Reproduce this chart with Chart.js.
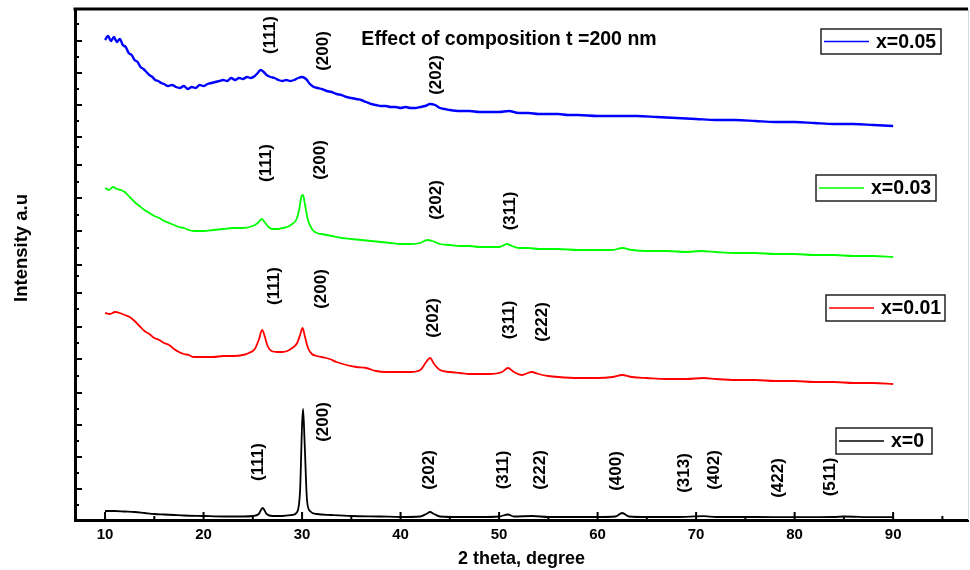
<!DOCTYPE html>
<html><head><meta charset="utf-8">
<script src="https://cdn.jsdelivr.net/npm/chart.js@4/dist/chart.umd.min.js"></script>
<style>html,body{margin:0;padding:0;background:#fff}#wrap{width:970px;height:570px;position:relative}canvas{display:block}</style>
</head><body><div id="wrap"><canvas id="c" width="970" height="570" style="width:970px;height:570px"></canvas></div>
<script>
// ---- DATA (2 theta in degrees, intensity in arbitrary units, stacked offsets as in the figure) ----
const seriesNames = ['x=0.05', 'x=0.03', 'x=0.01', 'x=0'];

const thetaX005 = [10,10.3,10.6,10.9,11.2,11.5,11.8,12.1,12.4,12.7,13.0,13.3,13.6,13.9,14.2,14.5,14.8,15.1,15.4,15.7,16.0,16.4,16.8,17.2,17.6,18.0,18.4,18.8,19.2,19.6,20.0,20.4,20.8,21.2,21.6,22.0,22.4,22.8,23.2,23.6,24.0,24.4,24.8,25.2,25.5,25.8,26.1,26.4,26.8,27.2,27.6,28.0,28.4,28.8,29.2,29.6,30.0,30.4,30.8,31.2,31.6,32.0,32.5,33.0,33.5,34.0,34.5,35.0,35.5,36.0,36.5,37.0,37.5,38.0,38.5,39.0,39.5,40.0,40.5,41.0,41.5,42.0,42.5,43.0,43.5,44.0,44.5,45,46,47,48,49,50,51,52,53,54,55,56,57,58,60,62,64,66,68,70,72,74,76,78,80,82,84,86,88,90];
const intX005 = [480,484,479,483,478,481,475,473,467,465,460,458,453,451,448,445,443,440,439,437,436,434,435,433,432,434,431,433,432,435,434,436,437,438,439,440,439,442,440,442,441,443,442,444,447,450,448,445,443,442,440,439,440,439,440,442,443,441,436,433,432,431,429,428,426,425,423,422,421,420,418,416,415,414,414,413,413,412,413,412,412,413,414,416,415,412,411,410,409,409,408,408,408,409,407,407,406,406,406,405,405,404,404,404,403,402,401,400,400,399,398,398,397,396,396,395,394];

const thetaX003 = [10,10.4,10.8,11.2,11.6,12.0,12.5,13.0,13.5,14.0,14.5,15.0,15.5,16.0,16.5,17.0,17.5,18.0,18.5,19.0,19.5,20.0,21.0,22.0,23.0,24.0,25.0,25.5,25.9,26.2,26.6,27.0,27.5,28.0,28.5,29.0,29.4,29.7,29.95,30.1,30.3,30.6,31.0,31.5,32.0,33.0,34.0,35.0,36.0,37.0,38.0,39.0,40.0,41.0,42.0,42.7,43.2,44.0,45.0,46,47,48,49,50,50.8,51.3,52,53,54,55,56,58,60,61.5,62.5,63.5,65,67,69,70.5,72,74,76,78,80,82,84,86,88,90];
const intX003 = [332,330,333,331,330,328,323,318,314,310,307,304,302,299,297,295,293,292,290,289,289,289,290,291,292,292,294,297,301,298,293,291,291,292,293,296,300,310,324,325,315,300,291,287,286,284,282,281,280,279,278,277,276,276,277,280,279,276,275,274,274,273,273,273,276,274,272,272,271,271,271,270,270,270,272,270,269,269,268,269,268,267,267,266,266,265,265,264,264,263];

const thetaX001 = [10,10.5,11.0,11.5,12.0,12.5,13.0,13.5,14.0,14.5,15.0,15.5,16.0,16.5,17.0,17.5,18.0,18.5,19.0,19.5,20.0,21.0,22.0,23.0,24.0,24.6,25.2,25.6,25.95,26.2,26.5,26.9,27.5,28.0,28.5,29.0,29.5,29.8,30.05,30.3,30.6,31.0,31.5,32.0,32.8,33.5,34.5,35.5,36.5,37.5,38.5,40.0,41.0,42.0,42.6,43.0,43.4,44.0,45.0,46,47,48,49,50.3,50.9,51.5,52.3,53.3,54,55,56,58,60,61.5,62.5,63.5,65,67,69,70.8,72,74,76,78,80,82,84,86,88,90];
const intX001 = [207,206,208,207,205,203,199,194,189,186,182,180,177,175,171,168,166,165,163,163,163,163,164,164,165,167,171,180,190,184,174,169,168,168,169,172,177,185,192,183,172,166,164,163,161,158,155,153,152,149,148,148,148,150,158,162,156,150,148,147,146,146,146,148,152,148,145,148,146,144,143,142,142,143,145,143,142,141,141,142,141,140,140,139,139,138,138,137,137,136];

const thetaX0 = [10,11,12,13,14,15,16,17,18,20,22,24,25,25.6,26.0,26.4,27,28,29,29.5,29.8,30.0,30.1,30.25,30.5,30.8,31.5,33,35,38,40,42,42.6,43.0,43.4,44,46,48,50,50.9,51.5,53.4,55,58,60,61.8,62.5,63.2,65,68,70.8,72,76,80,84,85,88,90];
const intX0 = [9,9,8.5,8,7,6,5.5,5,4.5,4,3.5,3.5,4,6,12,6,4,4,5,8,30,95,111,80,20,9,6,5,4,3.5,3,3.5,6,8,6,3.5,3,3,3.5,5.5,3.5,4,3,3,3,3.5,7,3.5,3,3,3.8,3,3,2.8,3,3.5,2.8,2.8];

// axis ticks
const xTickLabels = [10,20,30,40,50,60,70,80,90];
const xMinorTicks = [15,25,35,45,55,65,75,85,95];
const yMajorTicks = [31,63,95,127,161,193,227,255,289,322,355,383,415,447,479];
const yMinorTicks = [15,47,79,111,144,177,211,244,272,305,338,373,399,431,463,496];

// Miller index annotations: text, 2theta anchor, intensity anchor
const hklText  = ['(111)','(200)','(202)', '(111)','(200)','(202)','(311)', '(111)','(200)','(202)','(311)','(222)', '(111)','(200)','(202)','(311)','(222)','(400)','(313)','(402)','(422)','(511)'];
const hklTheta = [26.65,32.03,43.5, 26.24,31.73,43.5,51.0, 27.06,31.83,43.2,50.91,54.26, 25.43,32.03,42.79,50.3,54.06,61.78,68.68,71.73,78.22,83.5];
const hklLevel = [485,469,445, 357,360,320,309, 234,231,202,200,198, 58,98,50,50,50,49,47,50,42,43];

const colors = ['#0000ff','#00ff00','#ff0000','#000000'];
const FONT = 'Arial, "Liberation Sans", Helvetica, sans-serif';

function pts(xs, ys){ return xs.map((v,i)=>({x:v, y:ys[i]})); }

const decor = {
  id:'decor',
  afterDraw(chart){
    const {ctx, chartArea:a, scales:{x,y}} = chart;
    ctx.save();
    const seg=(x1,y1,x2,y2)=>{ctx.beginPath();ctx.moveTo(x1,y1);ctx.lineTo(x2,y2);ctx.stroke();};
    // inner ticks
    ctx.strokeStyle='#000'; ctx.lineWidth=2;
    xTickLabels.forEach(v=>{const p=x.getPixelForValue(v); seg(p,a.bottom,p,a.bottom-8);});
    xMinorTicks.forEach(v=>{const p=x.getPixelForValue(v); seg(p,a.bottom,p,a.bottom-4);});
    yMajorTicks.forEach(v=>{const p=y.getPixelForValue(v); seg(a.left,p,a.left+7,p);});
    yMinorTicks.forEach(v=>{const p=y.getPixelForValue(v); seg(a.left,p,a.left+4,p);});
    // top border and faint right border
    ctx.lineWidth=3; seg(a.left-1.5,a.top,a.right,a.top);
    ctx.strokeStyle='#d8d8d8'; ctx.lineWidth=1; seg(a.right+0.5,a.top,a.right+0.5,a.bottom);
    // hkl labels
    ctx.fillStyle='#000'; ctx.font='bold 17px '+FONT; ctx.textAlign='center'; ctx.textBaseline='middle';
    hklText.forEach((t,i)=>{
      ctx.save();
      ctx.translate(x.getPixelForValue(hklTheta[i]), y.getPixelForValue(hklLevel[i]));
      ctx.rotate(-Math.PI/2); ctx.fillText(t,0,1); ctx.restore();
    });
    // inner title
    ctx.font='bold 19.5px '+FONT;
    ctx.fillText('Effect of composition t =200 nm', 509, 40);
    // y axis title
    ctx.save(); ctx.translate(22,248); ctx.rotate(-Math.PI/2);
    ctx.font='bold 18.5px '+FONT; ctx.fillText('Intensity a.u',0,0); ctx.restore();
    // legends, one box per curve
    const boxes=[[821,29,941,54],[816,175,936,201],[826,295,945,321],[836,428,932,454]];
    boxes.forEach((b,i)=>{
      ctx.fillStyle='#fff'; ctx.fillRect(b[0],b[1],b[2]-b[0],b[3]-b[1]);
      ctx.strokeStyle='#222'; ctx.lineWidth=1.5; ctx.strokeRect(b[0],b[1],b[2]-b[0],b[3]-b[1]);
      const my=(b[1]+b[3])/2;
      ctx.strokeStyle=colors[i]; ctx.lineWidth=1.5; seg(b[0]+3,my,b[0]+48,my);
      ctx.fillStyle='#000'; ctx.font='bold 19.5px '+FONT; ctx.textAlign='left';
      ctx.fillText(seriesNames[i], b[0]+55, my+1);
    });
    ctx.restore();
  }
};

const dataSets = [[thetaX005,intX005],[thetaX003,intX003],[thetaX001,intX001],[thetaX0,intX0]];
new Chart(document.getElementById('c'), {
  type:'scatter',
  data:{ datasets: dataSets.map((d,i)=>({
    label: seriesNames[i], data: pts(d[0],d[1]), showLine:true, pointRadius:0,
    borderColor: colors[i], borderWidth: i===0?2.4:(i===3?1.8:1.8), cubicInterpolationMode:'monotone', fill:false
  }))},
  options:{
    responsive:false, maintainAspectRatio:false, animation:false, devicePixelRatio:1,
    layout:{padding:{left:0,right:2,top:9,bottom:0}},
    plugins:{legend:{display:false}, tooltip:{enabled:false}},
    scales:{
      x:{type:'linear', min:6.95, max:97.6,
        afterFit(s){ s.height=50; },
        afterBuildTicks(s){ s.ticks = xTickLabels.map(v=>({value:v})); },
        grid:{display:false, drawTicks:false},
        border:{display:true, color:'#000', width:3},
        ticks:{color:'#000', padding:6, font:{family:FONT, size:15, weight:'bold'}},
        title:{display:true, text:'2 theta, degree', color:'#000', padding:{top:0,bottom:0}, font:{family:FONT, size:18, weight:'bold'}}
      },
      y:{type:'linear', min:0, max:511,
        afterFit(s){ s.width=75; },
        grid:{display:false, drawTicks:false},
        border:{display:true, color:'#000', width:3},
        ticks:{display:false}
      }
    }
  },
  plugins:[decor]
});
</script></body></html>
